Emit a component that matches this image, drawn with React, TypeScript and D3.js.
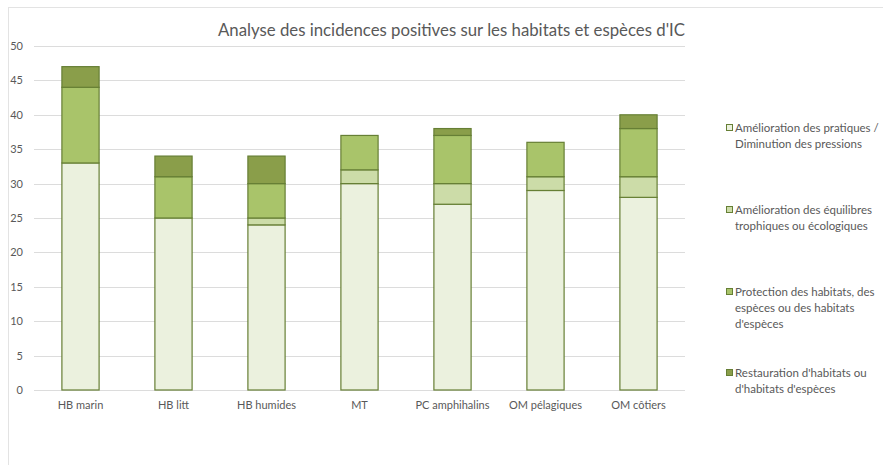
import React from "react";
import * as d3 from "d3";

const categories = ["HB marin", "HB litt", "HB humides", "MT", "PC amphihalins", "OM pélagiques", "OM côtiers"];
const seriesNames = [
  ["Amélioration des pratiques /", "Diminution des pressions"],
  ["Amélioration des équilibres", "trophiques ou écologiques"],
  ["Protection des habitats, des", "espèces ou des habitats", "d'espèces"],
  ["Restauration d'habitats ou", "d'habitats d'espèces"],
];
const pratiques = [33, 25, 24, 30, 27, 29, 28];
const equilibres = [0, 0, 1, 2, 3, 2, 3];
const protection = [11, 6, 5, 5, 7, 5, 7];
const restauration = [3, 3, 4, 0, 1, 0, 2];
const yTicks = [0, 5, 10, 15, 20, 25, 30, 35, 40, 45, 50];
const title = "Analyse des incidences positives sur les habitats et espèces d'IC";

const colors = ["#EBF1DE", "#CCDCA8", "#A9C46A", "#8A9E4A"];
const stroke = "#667F35";
const textColor = "#595959";
const font = "Lato, 'Open Sans', sans-serif";

export default function App() {
  const W = 883, H = 465;
  const series = [pratiques, equilibres, protection, restauration];
  const x = d3.scaleBand<string>().domain(categories).range([34, 685]).paddingInner(0.6).paddingOuter(0.3);
  const y = d3.scaleLinear().domain([0, 50]).range([390, 46]);
  const rows = categories.map((c, i) => {
    const o: any = { cat: c };
    series.forEach((s, k) => (o["s" + k] = s[i]));
    return o;
  });
  const stack = d3.stack<any>().keys(["s0", "s1", "s2", "s3"])(rows);
  const legendY = [132, 214, 296, 377];

  return (
    <svg width={W} height={H} style={{ position: "absolute", left: 0, top: 0, background: "#fff" }} fontFamily={font}>
      <rect x={8.5} y={7.5} width={W} height={H} fill="none" stroke="#E3E3E3" />
      <text x={451.5} y={36} textAnchor="middle" fontSize={16.8} fill={textColor}>{title}</text>
      {yTicks.map((t) => (
        <g key={t}>
          <line x1={34} x2={685} y1={Math.round(y(t)) + 0.5} y2={Math.round(y(t)) + 0.5} stroke="#DCDCDC" strokeWidth={1} />
          <text x={23} y={y(t) + 4} textAnchor="end" fontSize={11} fill={textColor}>{t}</text>
        </g>
      ))}
      {stack.map((layer, k) => (
        <g key={k}>
          {layer.map((d, i) =>
            d[1] - d[0] > 0 ? (
              <rect key={i} x={x(categories[i])!} y={y(d[1])} width={x.bandwidth()} height={y(d[0]) - y(d[1])}
                fill={colors[k]} stroke={stroke} strokeWidth={1.2} />
            ) : null
          )}
        </g>
      ))}
      {categories.map((c) => (
        <text key={c} x={x(c)! + x.bandwidth() / 2} y={409} textAnchor="middle" fontSize={11} fill={textColor}>{c}</text>
      ))}
      {seriesNames.map((lines, k) => (
        <g key={k}>
          <rect x={726.5} y={legendY[k] - 7.5} width={6} height={6} fill={colors[k]} stroke={stroke} strokeWidth={1} />
          {lines.map((l, j) => (
            <text key={j} x={735} y={legendY[k] + j * 16} fontSize={11.5} fill={textColor}>{l}</text>
          ))}
        </g>
      ))}
    </svg>
  );
}
